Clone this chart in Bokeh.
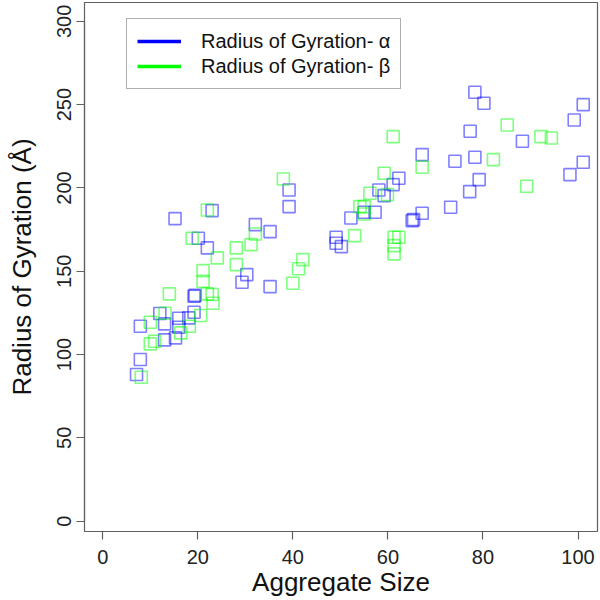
from bokeh.plotting import figure
from bokeh.models import Range1d, FixedTicker, Legend, LegendItem
from bokeh.embed import file_html
from bokeh.resources import INLINE

# Radius of Gyration - alpha (blue)
alpha_size = [7.1, 7.9, 7.9, 12.0, 13.0, 13.0, 15.3, 16.0, 16.0, 18.1, 19.2, 19.2, 19.4,
              15.2, 23.0, 20.1, 22.0, 29.3, 30.3, 32.1, 35.2, 35.2, 39.2, 39.2,
              49.1, 49.1, 50.2, 52.2, 55.0, 57.3, 58.1, 59.2, 61.1, 62.3, 65.1, 65.4,
              67.2, 67.2, 73.2, 74.1, 77.2, 77.3, 78.3, 78.3, 79.2, 80.2, 88.3,
              98.3, 99.2, 101.1, 101.1]
alpha_rg = [88, 97, 117, 124.6, 118.4, 108.8, 110, 121.8, 116.4, 122, 125.4, 135, 135.5,
            181.6, 186.4, 169.8, 164, 143.4, 148, 178, 173.8, 140.8, 198.8, 188.8,
            170.4, 166.8, 164.8, 182, 185.4, 185.4, 198.8, 195.4, 202, 205.8, 180.4, 181,
            220, 184.8, 188.4, 216, 197.8, 234, 257.4, 218.4, 205, 250.8, 228,
            208, 240.8, 250, 215.4]

# Radius of Gyration - beta (green)
beta_size = [8.1, 10.0, 10.9, 10.0, 13.1, 14.0, 16.4, 18.2, 20.6, 21.1, 21.1, 22.0, 23.0,
             23.2, 18.8, 22.0, 24.1, 28.1, 28.1, 31.2, 32.1, 38.0, 40.0, 41.2, 42.1,
             53.0, 54.1, 55.0, 55.0, 56.2, 59.2, 59.9, 61.1, 61.3, 62.3, 61.3, 61.3,
             67.2, 82.2, 85.1, 89.2, 92.2, 94.4]
beta_rg = [86.4, 106.4, 108, 119.4, 124.8, 136.4, 113, 117, 123.4, 150.4, 144, 136.4, 136,
           130.8, 169.8, 186.8, 158, 164, 154, 166, 172.4, 205.4, 142.8, 151.5, 157,
           171.4, 188.8, 188.8, 184.4, 196.8, 208.8, 196, 230.8, 170.4, 170.4, 165.4, 160.4,
           212.4, 217, 237.8, 201, 230.8, 230]

x_ticks = [0, 20, 40, 60, 80, 100]
y_ticks = [0, 50, 100, 150, 200, 250, 300]
labels = ["Radius of Gyration- \u03b1", "Radius of Gyration- \u03b2"]

FONT = "Liberation Sans"
AXC = "#606060"

p = figure(width=600, height=600, output_backend="svg", toolbar_location=None,
           x_range=Range1d(-3.85, 104.1), y_range=Range1d(-6.2, 311.3),
           min_border_left=84, min_border_right=3, min_border_top=2, min_border_bottom=69,
           background_fill_color="white", border_fill_color="white")
p.grid.visible = False
p.outline_line_color = AXC
p.outline_line_width = 1.2

p.scatter(alpha_size, alpha_rg, marker="square", size=12, fill_color=None,
          line_color="#0000ff", line_alpha=0.5, line_width=1.6)
p.scatter(beta_size, beta_rg, marker="square", size=12, fill_color=None,
          line_color="#00ff00", line_alpha=0.5, line_width=1.6)

for ax, ticks, bounds in ((p.xaxis[0], x_ticks, (0, 100)), (p.yaxis[0], y_ticks, (0, 300))):
    ax.ticker = FixedTicker(ticks=ticks)
    ax.bounds = bounds
    ax.axis_line_color = AXC
    ax.axis_line_width = 1.2
    ax.major_tick_line_color = AXC
    ax.major_tick_line_width = 1.2
    ax.major_tick_out = 8
    ax.major_tick_in = 0
    ax.minor_tick_line_color = None
    ax.major_label_text_font = FONT
    ax.major_label_text_font_size = "20px"
    ax.major_label_text_color = "#222222"
    ax.axis_label_text_font = FONT
    ax.axis_label_text_font_size = "26px"
    ax.axis_label_text_font_style = "normal"
    ax.axis_label_text_color = "#111111"

p.xaxis.axis_label = "Aggregate Size"
p.yaxis.axis_label = "Radius of Gyration (\u00c5)"
p.xaxis.major_label_standoff = 10
p.xaxis.axis_label_standoff = 0
p.yaxis.major_label_standoff = 5
p.yaxis.axis_label_standoff = 18
p.yaxis.major_label_orientation = "vertical"

# legend swatches: lines kept outside the visible ranges
la = p.line(x=[-60, -50], y=[-60, -60], line_color="#0000ff", line_width=3.5)
lb = p.line(x=[-60, -50], y=[-60, -60], line_color="#00ff00", line_width=3.5)
legend = Legend(items=[LegendItem(label=labels[0], renderers=[la]),
                       LegendItem(label=labels[1], renderers=[lb])],
                location=(42, 442), padding=10, spacing=1, margin=0,
                glyph_width=44, label_standoff=20, label_height=24,
                label_text_font=FONT, label_text_font_size="20px",
                label_text_color="#111111",
                border_line_color=AXC, border_line_width=1.2,
                background_fill_alpha=1.0)
p.add_layout(legend, "center")

open("out.html", "w").write(file_html(p, INLINE))
